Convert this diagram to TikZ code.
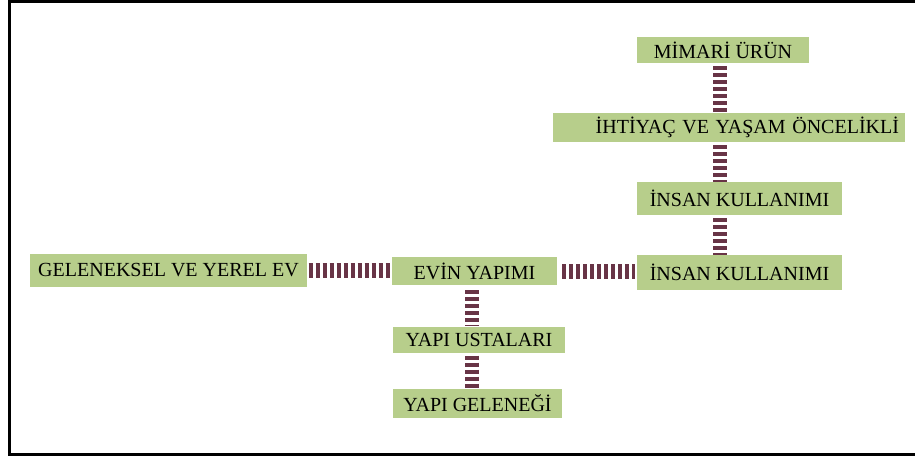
\documentclass[tikz,border=0pt]{standalone}
\usepackage{fontspec}
\setmainfont{Liberation Serif}
\definecolor{kutuyesil}{RGB}{183,206,139}
\definecolor{cizgibordo}{RGB}{104,52,70}
\tikzset{
  kutu/.style={fill=kutuyesil, inner sep=0pt, minimum height=29pt, text=black,
    font=\fontsize{20}{24}\selectfont},
  yatay/.style={draw=cizgibordo, line width=15pt, dash pattern=on 3.8pt off 3.2pt},
  dikey/.style={draw=cizgibordo, line width=14pt, dash pattern=on 3.8pt off 3.2pt}
}
\begin{document}
\begin{tikzpicture}[x=1pt,y=-1pt]
  \useasboundingbox (0,0) rectangle (915,457);
  \draw[line width=3pt] (916,1.5) -- (9.5,1.5) -- (9.5,454) -- (916,454);

  \node at (723,50) [kutu, minimum width=172pt, minimum height=26pt] (mimari) {MİMARİ ÜRÜN};
  \node at (729,127.5) [kutu, text width=340pt, align=right, inner xsep=6pt] (ihtiyac) {İHTİYAÇ VE YAŞAM ÖNCELİKLİ};
  \node at (739.5,198.5) [kutu, minimum width=205pt, minimum height=33pt] (insan1) {İNSAN KULLANIMI};
  \node at (739.5,272.5) [kutu, minimum width=205pt, minimum height=35pt] (insan2) {İNSAN KULLANIMI};
  \node at (474.5,271) [kutu, minimum width=165pt, minimum height=28pt] (evin) {EVİN YAPIMI};
  \node at (168.5,270.5) [kutu, minimum width=277pt, minimum height=33pt] (geleneksel) {GELENEKSEL VE YEREL EV};
  \node at (479,339.5) [kutu, minimum width=172pt, minimum height=26pt] (ustalar) {YAPI USTALARI};
  \node at (477.5,403.5) [kutu, minimum width=169pt] (gelenek) {YAPI GELENEĞİ};

  \coordinate (sag) at (720,0);
  \coordinate (sol) at (472,0);

  \draw[yatay, shorten <=1.5pt, shorten >=1.5pt] (geleneksel.east) -- (geleneksel.east -| evin.west);
  \draw[yatay, shorten <=5pt, shorten >=1.5pt] (evin.east) -- (evin.east -| insan2.west);
  \draw[dikey, shorten <=3pt] (mimari.south -| sag) -- (ihtiyac.north -| sag);
  \draw[dikey, shorten <=3pt] (ihtiyac.south -| sag) -- (insan1.north -| sag);
  \draw[dikey, shorten <=3pt] (insan1.south -| sag) -- (insan2.north -| sag);
  \draw[dikey, shorten <=5pt] (evin.south -| sol) -- (ustalar.north -| sol);
  \draw[dikey, shorten <=3pt] (ustalar.south -| sol) -- (gelenek.north -| sol);
\end{tikzpicture}
\end{document}
